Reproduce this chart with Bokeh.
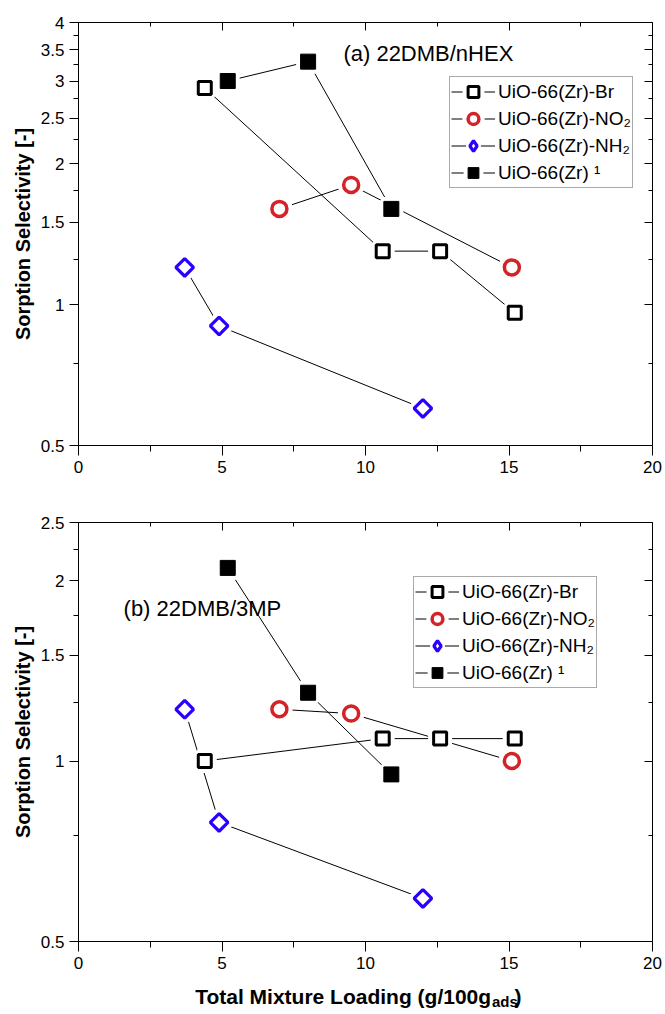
import numpy as np
from bokeh.plotting import figure
from bokeh.models import (Range1d, FixedTicker, CustomJSTickFormatter, LinearAxis, LogAxis,
                          Legend, LegendItem, Label)
from bokeh.layouts import column
from bokeh.embed import file_html
from bokeh.resources import INLINE

# ---------------- data ----------------
# panel (a) 22DMB/nHEX
br_a_x = [4.4, 10.6, 12.6, 15.2]
br_a_y = [2.9, 1.3, 1.3, 0.96]
no2_a_x = [7.0, 9.5, 15.1]
no2_a_y = [1.6, 1.8, 1.2]
nh2_a_x = [3.7, 4.9, 12.0]
nh2_a_y = [1.2, 0.9, 0.6]
zr_a_x = [5.2, 8.0, 10.9]
zr_a_y = [3.0, 3.3, 1.6]

# panel (b) 22DMB/3MP
br_b_x = [4.4, 10.6, 12.6, 15.2]
br_b_y = [1.0, 1.09, 1.09, 1.09]
no2_b_x = [7.0, 9.5, 15.1]
no2_b_y = [1.22, 1.2, 1.0]
nh2_b_x = [3.7, 4.9, 12.0]
nh2_b_y = [1.22, 0.79, 0.59]
zr_b_x = [5.2, 8.0, 10.9]
zr_b_y = [2.1, 1.3, 0.95]

series_labels = ["UiO-66(Zr)-Br", "UiO-66(Zr)-NO\u2082", "UiO-66(Zr)-NH\u2082", "UiO-66(Zr) \u00b9"]

x_ticks = [0, 5, 10, 15, 20]
x_minor = [2.5, 7.5, 12.5, 17.5]
ya_ticks = [0.5, 1, 1.5, 2, 2.5, 3, 3.5, 4]
ya_minor = [0.75, 1.25, 1.75, 2.25, 2.75, 3.25, 3.75]
yb_ticks = [0.5, 1, 1.5, 2, 2.5]
yb_minor = [0.75, 1.25, 1.75, 2.25]

FONT = "Liberation Sans"
RED = "#d42328"
BLUE = "#2a00ff"

styles = [
    dict(marker="square", size=13, fill_color="white", line_color="black", line_width=3, angle=0.0),
    dict(marker="circle", size=15, fill_color="white", line_color=RED, line_width=3.5, angle=0.0),
    dict(marker="square", size=12.5, fill_color="white", line_color=BLUE, line_width=3.2, angle=np.pi / 4),
    dict(marker="square", size=15, fill_color="black", line_color="black", line_width=1, angle=0.0),
]


def style_axis(ax, ticker, inward=False, hide=False):
    ax.ticker = ticker
    ax.axis_line_color = "black"
    ax.axis_line_width = 1
    ax.major_tick_line_color = "black"
    ax.minor_tick_line_color = "black"
    if inward:
        ax.major_tick_in, ax.major_tick_out = 8, 0
        ax.minor_tick_in, ax.minor_tick_out = 4, 0
    else:
        ax.major_tick_in, ax.major_tick_out = 0, 9
        ax.minor_tick_in, ax.minor_tick_out = 0, 5
    ax.major_label_text_font = FONT
    ax.major_label_text_color = "black"
    if hide:
        ax.formatter = CustomJSTickFormatter(code="return ''")
        ax.major_label_text_font_size = "1px"
        ax.major_label_standoff = 0
    else:
        ax.major_label_text_font_size = "17px"
        ax.major_label_standoff = 5


def make_panel(height, top, bottom, ymax, yticks, yminor, data, title, title_xy, legend_loc):
    p = figure(width=665, height=height, x_range=Range1d(0, 20), y_range=Range1d(0.5, ymax),
               y_axis_type="log", output_backend="svg", toolbar_location=None,
               min_border_left=78, min_border_right=13, min_border_top=top, min_border_bottom=bottom)
    p.xgrid.visible = False
    p.ygrid.visible = False
    p.outline_line_color = "black"
    p.outline_line_width = 1
    p.background_fill_color = "white"
    p.border_fill_color = "white"

    style_axis(p.xaxis[0], FixedTicker(ticks=x_ticks, minor_ticks=x_minor))
    style_axis(p.yaxis[0], FixedTicker(ticks=yticks, minor_ticks=yminor))
    p.yaxis[0].formatter = CustomJSTickFormatter(code="return String(tick);")
    p.yaxis[0].axis_label = "Sorption Selectivity [-]"
    p.yaxis[0].axis_label_text_font = FONT
    p.yaxis[0].axis_label_text_font_style = "bold"
    p.yaxis[0].axis_label_text_font_size = "20px"
    p.yaxis[0].axis_label_text_color = "black"
    p.yaxis[0].axis_label_standoff = 4
    p.xaxis[0].major_tick_out = 10
    p.xaxis[0].minor_tick_out = 6

    top_ax = LinearAxis()
    style_axis(top_ax, FixedTicker(ticks=x_ticks, minor_ticks=x_minor), inward=True, hide=True)
    p.add_layout(top_ax, "above")
    right_ax = LogAxis()
    style_axis(right_ax, FixedTicker(ticks=yticks, minor_ticks=yminor), inward=True, hide=True)
    p.add_layout(right_ax, "right")

    lines, halos, marks = [], [], []
    for (xs, ys), st in zip(data, styles):
        lines.append(p.line(xs, ys, line_color="black", line_width=1))
    for (xs, ys), st in zip(data, styles):
        halos.append(p.scatter(xs, ys, marker=st["marker"], size=st["size"], angle=st["angle"],
                               fill_color="white", line_color="white", line_width=st["line_width"] + 8))

    # legend stand-ins for the diamond series (legend glyphs are never rotated);
    # drawn underneath the real rotated-square marks, so they stay hidden in the plot
    st = styles[2]
    xs_d, ys_d = data[2]
    halo_d = p.scatter(xs_d, ys_d, marker="diamond", size=9, fill_color="white", line_color="white",
                       line_width=st["line_width"] + 6)
    mark_d = p.scatter(xs_d, ys_d, marker="diamond", size=9, fill_color="white", line_color=BLUE,
                       line_width=st["line_width"])

    for (xs, ys), st in zip(data, styles):
        marks.append(p.scatter(xs, ys, marker=st["marker"], size=st["size"], angle=st["angle"],
                               fill_color=st["fill_color"], line_color=st["line_color"],
                               line_width=st["line_width"]))

    legend_r = [[lines[0], halos[0], marks[0]],
                [lines[1], halos[1], marks[1]],
                [lines[2], halo_d, mark_d],
                [lines[3], halos[3], marks[3]]]

    items = [LegendItem(label=lab, renderers=rs) for lab, rs in zip(series_labels, legend_r)]
    legend = Legend(items=items, location=legend_loc, label_text_font=FONT, label_text_font_size="19px",
                    label_text_color="black", glyph_width=44, glyph_height=27, label_height=22,
                    spacing=0, padding=1, margin=0, label_standoff=3,
                    border_line_color="#555555", border_line_width=1, background_fill_color="white")
    p.add_layout(legend)

    p.add_layout(Label(x=title_xy[0], y=title_xy[1], text=title, text_font=FONT, text_font_size="22px",
                       text_baseline="middle", text_align="left", text_color="black"))
    return p


p1 = make_panel(488, 22, 43, 4, ya_ticks, ya_minor,
                [(br_a_x, br_a_y), (no2_a_x, no2_a_y), (nh2_a_x, nh2_a_y), (zr_a_x, zr_a_y)],
                "(a) 22DMB/nHEX", (9.23, 3.43), (371, 257))
p2 = make_panel(487, 34, 34, 2.5, yb_ticks, yb_minor,
                [(br_b_x, br_b_y), (no2_b_x, no2_b_y), (nh2_b_x, nh2_b_y), (zr_b_x, zr_b_y)],
                "(b) 22DMB/3MP", (1.57, 1.80), (335, 253))

# x-axis title with subscript (own strip under the lower panel, pixel coordinates)
p3 = figure(width=665, height=39, x_range=Range1d(0, 665), y_range=Range1d(0, 39),
            output_backend="svg", toolbar_location=None, min_border=0,
            x_axis_location=None, y_axis_location=None)
p3.outline_line_color = None
p3.xgrid.visible = False
p3.ygrid.visible = False
p3.background_fill_color = "white"
p3.border_fill_color = "white"
p3.add_layout(Label(x=478, y=18, text="Total Mixture Loading (g/100g", text_font=FONT,
                    text_font_size="21px", text_font_style="bold", text_align="right",
                    text_baseline="middle", text_color="black"))
p3.add_layout(Label(x=479, y=13, text="ads", text_font=FONT, text_font_size="15px",
                    text_font_style="bold", text_align="left", text_baseline="middle", text_color="black"))
p3.add_layout(Label(x=505, y=18, text=")", text_font=FONT, text_font_size="21px",
                    text_font_style="bold", text_align="left", text_baseline="middle", text_color="black"))

layout = column(p1, p2, p3, spacing=0)
open("out.html", "w").write(file_html(layout, INLINE))
